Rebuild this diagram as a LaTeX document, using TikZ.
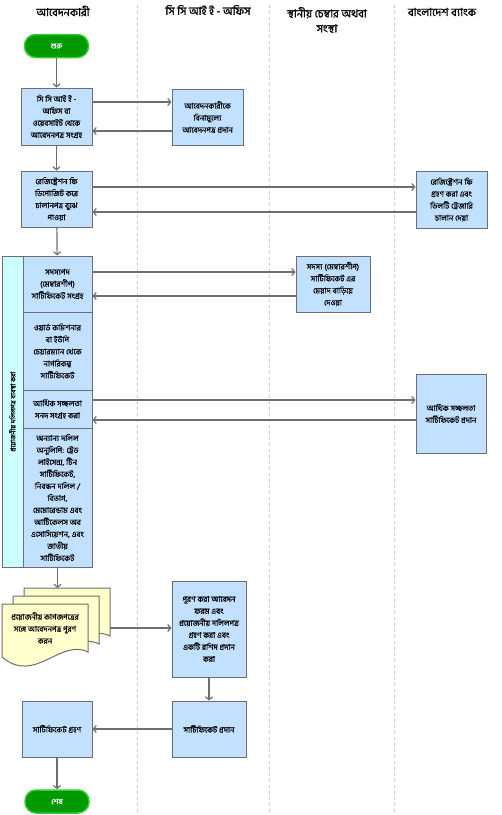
\documentclass[tikz,border=0pt]{standalone}
\usepackage{fontspec}
\newfontfamily\bn[Script=Bengali, FakeBold=0.4]{Hind Siliguri}
\newfontfamily\bnh[Script=Bengali, FakeBold=1.3]{Hind Siliguri}
\usetikzlibrary{arrows.meta}
\definecolor{boxfill}{HTML}{C2E0FF}
\definecolor{boxdraw}{HTML}{6E6E6E}
\definecolor{lanec}{HTML}{C4C4E4}
\definecolor{startfill}{HTML}{009A00}
\definecolor{startdraw}{HTML}{33CC33}
\definecolor{docfill}{HTML}{FFFFCC}
\definecolor{labfill}{HTML}{CCFFFF}
\definecolor{arrowc}{HTML}{6E6E6E}
\begin{document}
\begin{tikzpicture}[x=1pt,y=-1pt,
  box/.style n args={2}{draw=boxdraw, fill=boxfill, line width=1pt, align=center, inner sep=1pt,
     font=\bn\fontsize{7.9}{12}\selectfont, minimum width=#1pt, minimum height=#2pt},
  term/.style={draw=startdraw, fill=startfill, line width=1.5pt, rounded corners=11pt,
     minimum width=64pt, minimum height=23pt, text=white, font=\bn\fontsize{7.5}{9}\selectfont},
  arr/.style={draw=arrowc, line width=1.2pt, -{Straight Barb[length=3pt,width=7pt]}},
  laneline/.style={draw=lanec, line width=0.8pt, dash pattern=on 3pt off 3pt},
  head/.style={font=\bnh\fontsize{11}{15}\selectfont, align=center},
  doc/.style={draw=boxdraw, fill=docfill, line width=1pt},
  docpage/.pic={\filldraw[doc] (0,0) -- (86,0) -- (86,48) .. controls (58,34) and (33,81) .. (0,53) -- cycle;}
]
\useasboundingbox (0,0) rectangle (502,815);
\fill[white] (0,0) rectangle (502,815);

% lanes
\draw[laneline] (137,5) -- (137,815);
\draw[laneline] (269,5) -- (269,815);
\draw[laneline] (394,5) -- (394,815);

% headers
\node[head] (h1) at (63,11) {আবেদনকারী};
\node[head] (h2) at (208,10) {সি সি আই ই - অফিস};
\node[head] (h3) at (327,20) {স্থানীয় চেম্বার অথবা\\সংস্থা};
\node[head] (h4) at (442,12) {বাংলাদেশ ব্যাংক};

% nodes
\node[term] (start) at (56.5,46) {শুরু};
\node[box={71}{57}] (b1) at (56.5,116.5) {সি সি আই ই -\\অফিস বা\\ওয়েবসাইট থেকে\\আবেদনপত্র সংগ্রহ};
\node[box={71}{56}] (b2) at (207.5,117) {আবেদনকারীকে\\বিনামূল্যে\\আবেদনপত্র প্রদান};
\node[box={71}{56}] (b3) at (56.5,199) {রেজিস্ট্রেশন ফি\\ডিপোজিট করে\\চালানপত্র বুঝে\\পাওয়া};
\node[box={71}{57}] (bk1) at (451.5,199.5) {রেজিস্ট্রেশন ফি\\গ্রহণ করা এবং\\ডিলটি ট্রেজারি\\চালান দেয়া};

% group
\node[draw=boxdraw, fill=labfill, line width=1pt, minimum width=21pt, minimum height=311pt, inner sep=0pt] (lab) at (12.5,411.5) {};
\node[rotate=90, font=\bn\fontsize{6.8}{9}\selectfont] (labt) at (lab) {প্রয়োজনীয় দলিলপত্র ব্যবস্থা করা};
\node[box={69}{56}] (sa) at (57.5,284) {সদস্যপদ\\(মেম্বারশীপ)\\সার্টিফিকেট সংগ্রহ};
\node[box={69}{78}] (sb) at (57.5,351) {ওয়ার্ড কমিশনার\\বা ইউপি\\চেয়ারম্যান থেকে\\নাগরিকত্ব\\সার্টিফিকেট};
\node[box={69}{38}] (sc) at (57.5,409) {আর্থিক সচ্ছলতা\\সনদ সংগ্রহ করা};
\node[box={69}{139}] (sd) at (57.5,497.5) {অন্যান্য দলিল\\অনুলিপি: ট্রেড\\লাইসেন্স, টিন\\সার্টিফিকেট,\\নিবন্ধন দলিল /\\বিভাগ,\\মেমোরেন্ডাম এবং\\আর্টিকেলস অব\\এসোসিয়েশন, এবং\\জাতীয়\\সার্টিফিকেট};

\node[box={74}{56}] (ch) at (333,284) {সদস্য (মেম্বারশীপ)\\সার্টিফিকেট এর\\মেয়াদ বাড়িয়ে\\দেওয়া};
\node[box={70}{79}] (bk2) at (451,413.5) {আর্থিক সচ্ছলতা\\সার্টিফিকেট প্রদান};

% document
\pic at (24,588) {docpage};
\pic at (13,596) {docpage};
\pic at (2,604) {docpage};
\node[font=\bn\fontsize{7.9}{12}\selectfont, align=center] (doc) at (45,628) {প্রয়োজনীয় কাগজপত্রের\\সঙ্গে আবেদনপত্র পূরণ\\করন};
\coordinate (docT) at (57.5,588);
\coordinate (docR) at (110,628);

\node[box={74}{96}] (c3) at (209,629) {পূরণ করা আবেদন\\ফরম এবং\\প্রয়োজনীয় দলিলপত্র\\গ্রহণ করা এবং\\একটি রশিদ প্রদান\\করা};
\node[box={74}{56}] (c4) at (209,729) {সার্টিফিকেট প্রদান};
\node[box={70}{56}] (b5) at (57,729) {সার্টিফিকেট গ্রহণ};
\node[term] (end) at (57,801.5) {শেষ};

% connectors
\draw[arr] (start) -- (b1);
\draw[arr] ([yshift=14.5pt]b1.east) -- ([yshift=14.5pt]b1.east -| b2.west);
\draw[arr] ([yshift=-14.5pt]b1.east -| b2.west) -- ([yshift=-14.5pt]b1.east);
\draw[arr] (b1) -- (b3);
\draw[arr] ([yshift=12pt]b3.east) -- ([yshift=12pt]b3.east -| bk1.west);
\draw[arr] ([yshift=-13pt]b3.east -| bk1.west) -- ([yshift=-13pt]b3.east);
\draw[arr] (b3) -- (sa);
\draw[arr] ([yshift=12pt]sa.east) -- ([yshift=12pt]sa.east -| ch.west);
\draw[arr] ([yshift=-12pt]sa.east -| ch.west) -- ([yshift=-12pt]sa.east);
\draw[arr] ([yshift=9pt]sc.east) -- ([yshift=9pt]sc.east -| bk2.west);
\draw[arr] ([yshift=-11pt]sc.east -| bk2.west) -- ([yshift=-11pt]sc.east);
\draw[arr] (sd.south) -- (docT);
\draw[arr] (docR) -- (docR -| c3.west);
\draw[arr] (c3) -- (c4);
\draw[arr] (c4) -- (b5);
\draw[arr] (b5) -- (end);
\end{tikzpicture}
\end{document}
